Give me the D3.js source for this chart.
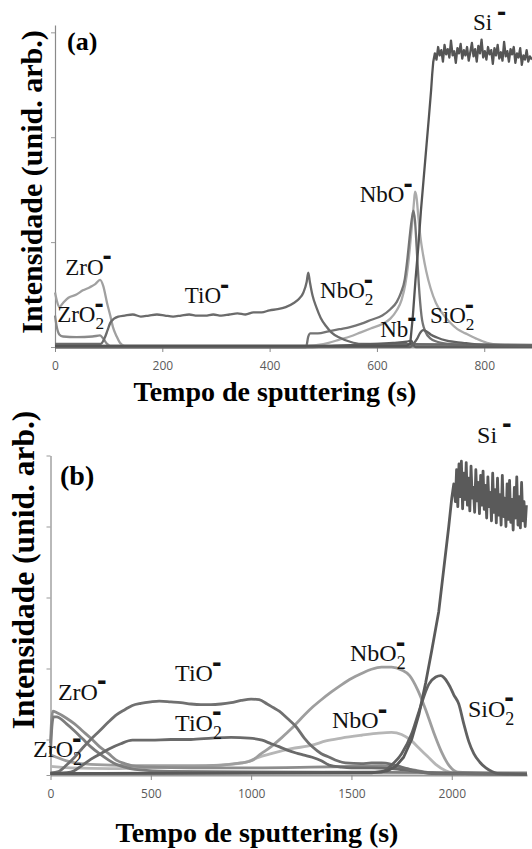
<!DOCTYPE html>
<html>
<head>
<meta charset="utf-8">
<script src="https://cdn.jsdelivr.net/npm/d3@7"></script>
<style>
  body { margin: 0; background: #fff; }
  svg { display: block; }
</style>
</head>
<body>
<script>
// Tamanho total da figura (dois painéis empilhados).
const WIDTH = 532;
const HEIGHT = 849;

const SERIF = "'Liberation Serif', 'Times New Roman', serif";
const SANS = "'Open Sans', 'Liberation Sans', sans-serif";

// ---------------- Painel (a) ----------------
const tempoTicksA = [0, 200, 400, 600, 800];
const intensTicksA = [0, 1, 2, 3];

const zrOA = [[0,0.52],[3,0.45],[8,0.38],[15,0.42],[25,0.47],[40,0.5],[52,0.54],[65,0.57],[75,0.6],[84,0.64],[90,0.58],[97,0.42],[103,0.3],[108,0.19],[115,0.1],[121,0.04],[130,0.01],[889,0.01]];
const zrO2A = [[0,0.3],[3,0.2],[8,0.12],[15,0.1],[40,0.095],[70,0.1],[84,0.11],[90,0.08],[97,0.03],[103,0.01],[889,0.01]];
const tiOA = [[0,0.03],[85,0.03],[92,0.08],[98,0.16],[103,0.23],[110,0.27],[118,0.29],[130,0.3],[145,0.31],[160,0.29],[175,0.3],[190,0.31],[205,0.3],[220,0.29],[235,0.3],[250,0.31],[265,0.3],[280,0.3],[295,0.31],[310,0.3],[325,0.31],[340,0.32],[355,0.31],[370,0.33],[385,0.33],[400,0.35],[415,0.36],[430,0.38],[445,0.42],[455,0.46],[463,0.52],[469,0.62],[472,0.71],[475,0.62],[480,0.49],[487,0.38],[495,0.28],[505,0.2],[515,0.14],[530,0.09],[550,0.05],[570,0.03],[889,0.02]];
const nbO2A = [[0,0],[468,0],[472,0.1],[476,0.13],[490,0.13],[510,0.15],[530,0.17],[550,0.19],[570,0.22],[590,0.26],[610,0.3],[625,0.36],[637,0.43],[645,0.52],[652,0.65],[657,0.85],[661,1.05],[665,1.22],[668,1.3],[671,1.2],[674,0.95],[678,0.6],[683,0.3],[690,0.15],[700,0.08],[720,0.04],[760,0.02],[889,0.01]];
const nbOA = [[0,0.01],[470,0.01],[490,0.02],[510,0.04],[530,0.07],[550,0.1],[570,0.14],[590,0.18],[610,0.22],[625,0.27],[637,0.35],[646,0.45],[653,0.6],[658,0.78],[662,0.98],[666,1.2],[669,1.38],[671,1.48],[674,1.42],[677,1.25],[681,1.05],[686,0.88],[692,0.72],[700,0.56],[710,0.42],[722,0.32],[735,0.24],[750,0.17],[765,0.13],[785,0.08],[805,0.04],[830,0.02],[889,0.01]];
const nbA = [[0,0],[480,0],[520,0.01],[560,0.02],[600,0.03],[630,0.04],[655,0.05],[664,0.06],[668,0.02],[672,0],[889,0]];
const siO2A = [[0,0],[662,0],[668,0.03],[675,0.08],[680,0.13],[686,0.16],[692,0.15],[700,0.12],[712,0.09],[730,0.06],[760,0.04],[800,0.02],[889,0.01]];
const siA = [[0,0.01],[655,0.01],[662,0.03],[667,0.3],[672,0.65],[677,0.95],[682,1.3],[687,1.6],[692,1.9],[697,2.2],[701,2.45],[703,2.6],[705,2.72],[708,2.8],
  [711,2.74],[714,2.86],[717,2.78],[720,2.83],[723,2.72],[726,2.88],[729,2.79],[732,2.84],[735,2.76],[738,2.92],[741,2.78],[744,2.82],[747,2.71],[750,2.85],[753,2.8],[756,2.89],[759,2.75],[762,2.83],[765,2.78],[768,2.86],[771,2.73],[774,2.81],[777,2.9],[780,2.77],[783,2.84],[786,2.72],[789,2.87],[792,2.8],[795,2.93],[798,2.76],[801,2.82],[804,2.74],[807,2.86],[810,2.79],[813,2.83],[816,2.7],[819,2.85],[822,2.78],[825,2.88],[828,2.75],[831,2.81],[834,2.73],[837,2.91],[840,2.77],[843,2.82],[846,2.72],[849,2.84],[852,2.79],[855,2.86],[858,2.71],[861,2.8],[864,2.76],[867,2.85],[870,2.69],[873,2.78],[876,2.74],[879,2.83],[882,2.72],[885,2.77],[889,2.74]];

const rotulosA = [
  { base: "ZrO", sub: "", t: 19, v: 0.69 },
  { base: "ZrO", sub: "2", t: 4, v: 0.24 },
  { base: "TiO", sub: "", t: 242, v: 0.42 },
  { base: "NbO", sub: "2", t: 494, v: 0.47 },
  { base: "NbO", sub: "", t: 568, v: 1.38 },
  { base: "Nb", sub: "", t: 606, v: 0.1 },
  { base: "SiO", sub: "2", t: 699, v: 0.23 },
  { base: "Si", sub: "", t: 779, v: 3.02, espaco: true },
];

// ---------------- Painel (b) ----------------
const tempoTicksB = [0, 500, 1000, 1500, 2000];
const intensTicksB = [0, 0.5, 1.5, 2.5, 3.5, 4.5];

const zrOB = [[0,0.45],[5,0.75],[12,0.9],[30,0.88],[80,0.8],[120,0.72],[160,0.62],[200,0.52],[244,0.4],[290,0.3],[328,0.21],[370,0.16],[408,0.13],[500,0.11],[700,0.1],[1000,0.1],[1300,0.11],[1500,0.12],[1650,0.13],[1750,0.1],[1850,0.05],[1950,0.02],[2375,0.01]];
const zrO2B = [[0,0.3],[5,0.6],[15,0.82],[30,0.82],[80,0.72],[120,0.62],[160,0.51],[200,0.4],[244,0.3],[290,0.21],[328,0.15],[370,0.11],[420,0.08],[600,0.05],[2375,0.03]];
const tiOB = [[0,0.03],[40,0.05],[80,0.14],[120,0.25],[160,0.38],[200,0.5],[244,0.62],[290,0.75],[330,0.85],[370,0.92],[408,0.98],[450,1.01],[500,1.03],[542,1.04],[600,1.03],[650,1.02],[700,1.0],[750,0.99],[800,0.99],[850,1.0],[900,1.02],[950,1.05],[1000,1.07],[1040,1.06],[1080,1.0],[1110,0.95],[1140,0.9],[1180,0.8],[1224,0.68],[1265,0.52],[1304,0.4],[1350,0.3],[1390,0.25],[1430,0.2],[1470,0.17],[1550,0.16],[1600,0.17],[1650,0.17],[1700,0.15],[1750,0.11],[1800,0.07],[1850,0.04],[1900,0.02],[2375,0.01]];
const tiO2B = [[0,0.02],[100,0.04],[160,0.14],[200,0.22],[250,0.3],[294,0.37],[350,0.44],[408,0.49],[500,0.49],[600,0.5],[700,0.5],[806,0.52],[900,0.53],[990,0.52],[1055,0.49],[1100,0.44],[1139,0.4],[1180,0.35],[1224,0.31],[1264,0.28],[1304,0.25],[1350,0.2],[1388,0.14],[1450,0.11],[1500,0.1],[1600,0.1],[1700,0.09],[1800,0.06],[1900,0.03],[2375,0.01]];
const nbO2B = [[0,0.28],[30,0.25],[80,0.2],[150,0.16],[300,0.14],[500,0.13],[700,0.13],[850,0.14],[950,0.17],[1000,0.2],[1050,0.3],[1100,0.4],[1150,0.52],[1200,0.65],[1250,0.8],[1300,0.94],[1350,1.06],[1400,1.17],[1450,1.27],[1500,1.36],[1550,1.43],[1600,1.49],[1650,1.52],[1700,1.52],[1750,1.48],[1790,1.4],[1830,1.2],[1870,0.92],[1910,0.6],[1950,0.32],[1990,0.12],[2030,0.04],[2375,0.01]];
const nbOB = [[0,0.12],[100,0.1],[300,0.09],[500,0.1],[700,0.12],[850,0.14],[975,0.18],[1040,0.25],[1100,0.3],[1200,0.37],[1304,0.42],[1373,0.48],[1450,0.52],[1550,0.56],[1637,0.59],[1700,0.6],[1750,0.57],[1800,0.48],[1836,0.38],[1880,0.26],[1920,0.15],[1970,0.06],[2020,0.02],[2375,0.01]];
const siO2B = [[0,0.02],[1650,0.04],[1700,0.14],[1750,0.3],[1800,0.58],[1837,0.9],[1886,1.28],[1920,1.38],[1945,1.4],[1965,1.36],[1990,1.25],[2010,1.13],[2035,1.0],[2060,0.72],[2085,0.47],[2110,0.3],[2140,0.18],[2170,0.1],[2200,0.05],[2234,0.02],[2375,0.01]];
const siB = [[0,0.02],[1600,0.03],[1680,0.06],[1720,0.12],[1760,0.25],[1800,0.5],[1836,0.85],[1870,1.3],[1900,1.75],[1935,2.3],[1960,2.9],[1985,3.5],[2000,3.9],[2010,4.1],
  [2018,3.85],[2024,4.3],[2030,3.78],[2036,4.38],[2042,3.92],[2048,4.42],[2054,3.75],[2060,4.25],[2066,3.88],[2072,4.4],[2078,3.8],[2084,4.18],[2090,3.72],[2096,4.35],[2102,3.9],[2108,4.05],[2114,3.7],[2120,4.3],[2126,3.86],[2132,4.12],[2138,3.68],[2144,4.22],[2150,3.8],[2156,4.28],[2162,3.74],[2168,4.08],[2174,3.62],[2180,4.2],[2186,3.78],[2192,3.98],[2198,3.58],[2204,4.25],[2210,3.7],[2216,4.02],[2222,3.55],[2228,4.18],[2234,3.66],[2240,3.95],[2246,3.52],[2252,4.22],[2258,3.64],[2264,3.9],[2270,3.5],[2276,4.1],[2282,3.6],[2288,4.15],[2294,3.56],[2300,3.88],[2306,3.45],[2312,4.05],[2318,3.62],[2324,4.2],[2330,3.52],[2336,3.92],[2342,3.48],[2348,4.12],[2354,3.58],[2360,3.85],[2366,3.5],[2372,3.8]];

const rotulosB = [
  { base: "ZrO", sub: "", t: 37, v: 1.06 },
  { base: "ZrO", sub: "2", t: -87, v: 0.25 },
  { base: "TiO", sub: "", t: 621, v: 1.32 },
  { base: "TiO", sub: "2", t: 621, v: 0.62 },
  { base: "NbO", sub: "2", t: 1493, v: 1.6 },
  { base: "NbO", sub: "", t: 1403, v: 0.66 },
  { base: "SiO", sub: "2", t: 2081, v: 0.82 },
  { base: "Si", sub: "", t: 2126, v: 4.68, espaco: true },
];

// Cinzas de cada curva (ordem = ordem de desenho, claras primeiro).
const seriesA = [
  { nome: "NbO-", dados: nbOA, cor: "#ababab" },
  { nome: "ZrO-", dados: zrOA, cor: "#a0a0a0" },
  { nome: "ZrO2-", dados: zrO2A, cor: "#8a8a8a" },
  { nome: "NbO2-", dados: nbO2A, cor: "#747474" },
  { nome: "TiO-", dados: tiOA, cor: "#6b6b6b" },
  { nome: "Nb-", dados: nbA, cor: "#5e5e5e" },
  { nome: "SiO2-", dados: siO2A, cor: "#636363" },
  { nome: "Si-", dados: siA, cor: "#555555", ruido: true },
];
const seriesB = [
  { nome: "NbO-", dados: nbOB, cor: "#b6b6b6" },
  { nome: "NbO2-", dados: nbO2B, cor: "#9e9e9e" },
  { nome: "ZrO-", dados: zrOB, cor: "#8c8c8c" },
  { nome: "ZrO2-", dados: zrO2B, cor: "#7c7c7c" },
  { nome: "TiO2-", dados: tiO2B, cor: "#6a6a6a" },
  { nome: "TiO-", dados: tiOB, cor: "#707070" },
  { nome: "SiO2-", dados: siO2B, cor: "#616161" },
  { nome: "Si-", dados: siB, cor: "#5a5a5a", ruido: true },
];

const svg = d3.select("body")
  .append("svg")
  .attr("width", WIDTH)
  .attr("height", HEIGHT);

// Escreve um rótulo de íon: base + subscrito opcional + carga negativa.
function escreveRotulo(g, px, py, r, tam) {
  const txt = g.append("text")
    .attr("x", px).attr("y", py)
    .attr("font-family", SERIF).attr("font-size", tam).attr("fill", "#111")
    .text(r.base);
  const w = txt.node().getComputedTextLength();
  let xCarga = px + w - 1;
  if (r.sub) {
    g.append("text")
      .attr("x", px + w).attr("y", py + tam * 0.33)
      .attr("font-family", SERIF).attr("font-size", tam * 0.75).attr("fill", "#111")
      .text(r.sub);
    xCarga = px + w - 1;
  }
  if (r.espaco) xCarga += tam * 0.25;
  g.append("text")
    .attr("x", xCarga).attr("y", py - tam * 0.4)
    .attr("font-family", "'Liberation Sans', Arial, sans-serif")
    .attr("font-weight", "bold").attr("font-size", tam * 1.2).attr("fill", "#111")
    .text("-");
}

function desenhaPainel(p) {
  const x = d3.scaleLinear().domain(p.dominioX).range(p.faixaX);
  const y = d3.scaleLinear().domain(p.dominioY).range(p.faixaY);
  const g = svg.append("g");

  // Eixo X com os tempos
  const ejeX = d3.axisBottom(x)
    .tickValues(p.ticksX)
    .tickFormat(d3.format("d"))
    .tickSize(5).tickSizeOuter(0).tickPadding(9);
  const gx = g.append("g")
    .attr("transform", `translate(0, ${p.faixaY[0]})`)
    .call(ejeX);
  gx.select(".domain").attr("stroke", "#9a9a9a").attr("stroke-width", 2);
  gx.selectAll(".tick line").attr("stroke", "#888");
  gx.selectAll(".tick text")
    .attr("font-family", SANS).attr("font-size", 12).attr("fill", "#5a5a5a");

  // Eixo Y só com marcas (unidades arbitrárias)
  const ejeY = d3.axisLeft(y).tickValues(p.ticksY).tickSize(4).tickSizeOuter(0).tickFormat("");
  const gy = g.append("g")
    .attr("transform", `translate(${p.faixaX[0]}, 0)`)
    .call(ejeY);
  gy.select(".domain").attr("stroke", "#8a8a8a").attr("stroke-width", 1.2);
  gy.selectAll(".tick line").attr("stroke", "#999");

  // Curvas de intensidade
  const linha = d3.line().x((d) => x(d[0])).y((d) => y(d[1]));
  g.selectAll("path.serie")
    .data(p.series)
    .join("path")
    .attr("class", "serie")
    .attr("fill", "none")
    .attr("stroke", (s) => s.cor)
    .attr("stroke-width", p.espessura)
    .attr("stroke-linejoin", "round")
    .attr("d", (s) => linha.curve(s.ruido ? d3.curveLinear : d3.curveMonotoneX)(s.dados));

  // Rótulos das espécies
  p.rotulos.forEach((r) => escreveRotulo(g, x(r.t), y(r.v), r, p.tamRotulo));

  // Letra do painel
  g.append("text")
    .attr("x", p.letra.x).attr("y", p.letra.y)
    .attr("font-family", SERIF).attr("font-weight", "bold").attr("font-size", p.letra.tam)
    .text(p.letra.texto);

  // Títulos dos eixos
  g.append("text")
    .attr("transform", `translate(${p.tituloY.x}, ${p.tituloY.y}) rotate(-90)`)
    .attr("text-anchor", "middle")
    .attr("font-family", SERIF).attr("font-weight", "bold").attr("font-size", p.tituloY.tam)
    .text("Intensidade (unid. arb.)");
  g.append("text")
    .attr("x", p.tituloX.x).attr("y", p.tituloX.y)
    .attr("text-anchor", "middle")
    .attr("font-family", SERIF).attr("font-weight", "bold").attr("font-size", 28)
    .text("Tempo de sputtering (s)");
}

desenhaPainel({
  dominioX: [0, 889], faixaX: [55, 532],
  dominioY: [0, 3.07], faixaY: [347, 25],
  ticksX: tempoTicksA, ticksY: intensTicksA,
  series: seriesA, rotulos: rotulosA, tamRotulo: 23, espessura: 2.3,
  letra: { texto: "(a)", x: 67, y: 50, tam: 26 },
  tituloY: { x: 42, y: 182, tam: 30 },
  tituloX: { x: 275, y: 401 },
});

desenhaPainel({
  dominioX: [0, 2375], faixaX: [50.5, 527],
  dominioY: [0, 4.5], faixaY: [775, 455.5],
  ticksX: tempoTicksB, ticksY: intensTicksB,
  series: seriesB, rotulos: rotulosB, tamRotulo: 24, espessura: 2.8,
  letra: { texto: "(b)", x: 60, y: 485, tam: 28 },
  tituloY: { x: 34, y: 570, tam: 31.5 },
  tituloX: { x: 257, y: 842 },
});
</script>
</body>
</html>
